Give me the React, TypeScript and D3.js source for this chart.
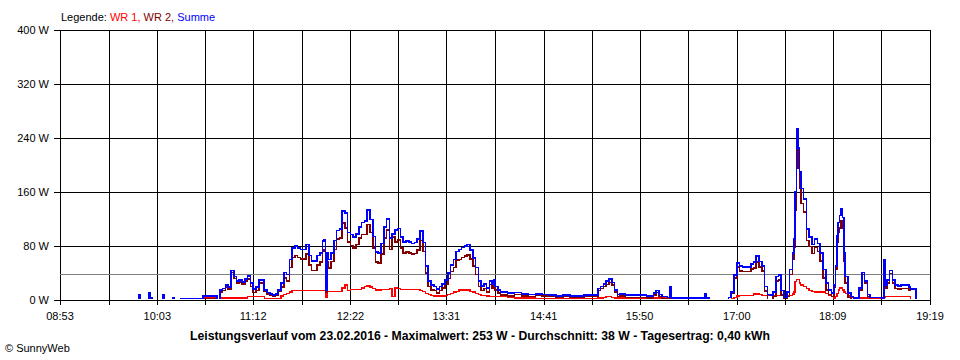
import React from 'react';
import * as d3 from 'd3';

// ---- data ----
const times = [
  '08:53','09:49','09:50','09:51','09:56','09:57','09:58','09:59','10:06','10:07','10:08','10:13','10:14','10:15','10:20','10:34',
  '10:36','10:44','10:46','10:48','10:50','10:52','10:54','10:56','10:58','11:00','11:02','11:04','11:06','11:08','11:10','11:12',
  '11:14','11:16','11:18','11:20','11:22','11:24','11:26','11:28','11:30','11:32','11:34','11:36','11:38','11:40','11:42','11:44',
  '11:46','11:48','11:50','11:52','11:54','11:56','11:58','12:00','12:02','12:03','12:04','12:05','12:06','12:08','12:10','12:12',
  '12:14','12:16','12:18','12:20','12:22','12:24','12:26','12:28','12:30','12:32','12:34','12:36','12:38','12:40','12:42','12:44',
  '12:46','12:48','12:50','12:52','12:54','12:56','12:58','13:00','13:02','13:04','13:06','13:08','13:10','13:12','13:14','13:16',
  '13:18','13:20','13:22','13:24','13:26','13:28','13:30','13:32','13:34','13:36','13:38','13:40','13:42','13:44','13:46','13:48',
  '13:50','13:52','13:54','13:56','13:58','14:00','14:02','14:04','14:05','14:06','14:08','14:10','14:15','14:20','14:25','14:30',
  '14:35','14:40','14:45','14:50','14:55','15:00','15:05','15:10','15:15','15:20','15:22','15:24','15:26','15:28','15:30','15:32',
  '15:34','15:36','15:40','15:45','15:50','15:55','16:00','16:02','16:04','16:06','16:10','16:12','16:13','16:20','16:30','16:34',
  '16:37','16:38','16:40','16:54','16:56','16:58','17:00','17:02','17:04','17:06','17:08','17:10','17:12','17:14','17:16','17:18',
  '17:20','17:22','17:24','17:26','17:28','17:30','17:32','17:34','17:36','17:38','17:40','17:41','17:42','17:43','17:44','17:45',
  '17:46','17:48','17:50','17:52','17:54','17:56','17:58','18:00','18:02','18:04','18:06','18:08','18:10','18:11','18:12','18:13',
  '18:14','18:15','18:16','18:17','18:18','18:20','18:22','18:24','18:26','18:28','18:30','18:32','18:34','18:36','18:44','18:46',
  '18:47','18:48','18:50','18:52','18:54','18:56','18:58','19:00','19:04','19:05','19:08','19:09'
];

const summe = [
  0,0,7,0,0,11,4,0,0,7,0,0,3,0,2,2,
  6,6,1,15,17,22,19,44,35,28,30,27,31,36,25,16,
  19,30,30,15,11,9,7,9,15,25,41,38,60,77,80,77,
  75,75,82,66,58,58,66,70,87,89,15,70,60,70,88,103,
  105,132,129,100,97,93,98,108,115,117,133,119,94,71,70,84,
  108,120,92,98,104,106,93,86,87,86,84,85,90,102,85,50,
  28,22,20,16,20,24,30,40,52,60,72,75,78,80,82,74,
  62,48,28,21,24,18,28,23,30,20,15,12,10,11,9,8,
  9,8,7,6,7,6,6,7,7,17,20,24,28,31,26,15,
  8,9,7,7,7,6,10,14,8,5,4,19,3,3,3,3,
  9,3,1,4,12,37,55,50,49,49,49,53,56,65,57,50,
  20,8,7,12,35,37,14,4,12,45,70,90,160,253,225,190,
  165,150,105,93,82,90,84,70,45,25,15,10,22,50,95,115,
  125,135,122,70,35,10,5,3,3,18,41,28,8,4,3,59,
  22,30,44,30,22,21,22,22,19,16,16,0
];

const wr1 = [
  0,0,2,0,0,3,1,0,0,2,0,0,0,0,0,0,
  4,4,0,3,3,3,3,3,3,3,3,3,3,5,5,5,
  5,5,5,2,2,2,2,2,2,6,8,10,12,14,14,14,
  14,14,14,14,14,14,14,14,14,14,4,13,13,13,13,13,
  13,18,22,14,16,16,16,16,18,20,21,19,17,15,15,16,
  16,16,17,5,18,17,16,16,16,16,16,16,16,14,13,10,
  8,7,6,6,6,6,7,8,10,12,13,15,15,15,15,13,
  12,10,8,7,7,6,5,5,5,5,5,5,4,3,3,3,
  2,2,2,2,2,2,2,2,2,3,3,4,5,5,4,3,
  3,3,3,3,3,3,3,3,3,3,3,3,3,3,2,0,
  0,0,0,0,2,4,6,7,7,7,7,7,9,9,8,7,
  7,7,7,7,7,7,7,4,7,7,9,12,27,30,30,25,
  22,20,17,14,13,12,12,12,12,10,7,5,3,5,10,15,
  18,18,15,12,10,6,4,3,3,3,3,3,3,3,3,4,
  5,5,5,5,5,5,5,5,5,0,0,0
];

const wr2 = [
  0,0,5,0,0,8,3,0,0,5,0,0,3,0,2,2,
  2,2,1,12,14,19,16,41,32,25,27,24,28,31,20,11,
  14,25,25,13,9,7,5,7,13,19,33,28,48,63,66,63,
  61,61,68,52,44,44,52,56,73,75,11,57,47,57,75,90,
  92,114,107,86,81,77,82,92,97,97,112,100,77,56,55,68,
  92,104,75,93,86,89,77,70,71,70,68,69,74,88,72,40,
  20,15,14,10,14,18,23,32,42,48,59,60,63,65,67,61,
  50,38,20,14,17,12,23,18,25,15,10,7,6,8,6,5,
  7,6,5,4,5,4,4,5,5,14,17,20,23,26,22,12,
  5,6,4,4,4,3,7,11,5,2,1,16,0,0,1,3,
  9,3,1,4,10,33,49,43,42,42,42,46,47,56,49,43,
  13,1,0,5,28,30,7,0,5,38,61,78,133,223,195,165,
  143,130,88,79,69,78,72,58,33,15,8,5,19,45,85,100,
  107,117,107,58,25,4,1,0,0,15,38,25,5,1,0,55,
  17,25,39,25,17,16,17,17,14,16,16,0
];

const yTicks = [0, 80, 160, 240, 320, 400];
const xTickLabels = ['08:53', '10:03', '11:12', '12:22', '13:31', '14:41', '15:50', '17:00', '18:09', '19:19'];
const average = 38;
const legendItems = [
  { label: 'WR 1, ', color: '#ff0000' },
  { label: 'WR 2, ', color: '#800000' },
  { label: 'Summe', color: '#0000ff' },
];
const title = 'Leistungsverlauf vom 23.02.2016 - Maximalwert: 253 W - Durchschnitt: 38 W - Tagesertrag: 0,40 kWh';
const copyright = '\u00a9 SunnyWeb';

// ---- layout ----
const W = 960;
const H = 360;
const left = 60;
const right = 930;
const top = 30;
const bottom = 300;
const FONT = '"Liberation Sans", Arial, sans-serif';

const toMin = (s: string) => {
  const [h, m] = s.split(':').map(Number);
  return h * 60 + m;
};

export default function App() {
  const mins = times.map(toMin);
  const x = d3.scaleLinear().domain([toMin(xTickLabels[0]), toMin(xTickLabels[xTickLabels.length - 1])]).range([left, right]);
  const y = d3.scaleLinear().domain([0, 400]).range([bottom, top]);

  const labelX = xTickLabels.map((l) => x(toMin(l)));
  const gridX: number[] = [];
  labelX.forEach((v, i) => {
    gridX.push(v);
    if (i < labelX.length - 1) gridX.push((v + labelX[i + 1]) / 2);
  });

  const mk = (vals: number[]) =>
    d3
      .line<number>()
      .x((_, i) => x(mins[i]))
      .y((d) => y(d))
      .curve(d3.curveStepAfter)(vals) || '';

  const px = (v: number) => Math.round(v) + 0.5;

  return (
    <svg
      width={W}
      height={H}
      style={{ position: 'absolute', left: 0, top: 0, background: '#fff', display: 'block' }}
      fontFamily={FONT}
    >
      <rect x={0} y={0} width={W} height={H} fill="#fff" />
      <defs>
        <clipPath id="plotclip">
          <rect x={left} y={top} width={right - left} height={bottom - top - 1} />
        </clipPath>
      </defs>

      {/* legend */}
      <text x={61} y={21} fontSize={11} fill="#000">
        <tspan>Legende: </tspan>
        {legendItems.map((it) => (
          <tspan key={it.label} fill={it.color}>
            {it.label}
          </tspan>
        ))}
      </text>

      {/* horizontal grid + y labels */}
      {yTicks.map((t) => (
        <g key={t}>
          <line x1={54} x2={right} y1={px(y(t))} y2={px(y(t))} stroke="#000" strokeWidth={1} shapeRendering="crispEdges" />
          <text x={49} y={y(t) + 4} fontSize={11} textAnchor="end" fill="#000">
            {`${t} W`}
          </text>
        </g>
      ))}

      {/* vertical grid */}
      {gridX.map((gx, i) => (
        <line key={i} x1={px(gx)} x2={px(gx)} y1={top} y2={bottom + 5} stroke="#000" strokeWidth={1} shapeRendering="crispEdges" />
      ))}

      {/* average line */}
      <line x1={left} x2={right} y1={px(y(average))} y2={px(y(average))} stroke="#808080" strokeWidth={1} shapeRendering="crispEdges" />

      {/* series */}
      <g clipPath="url(#plotclip)" fill="none" shapeRendering="crispEdges">
        <path d={mk(wr1)} stroke="#ff0000" strokeWidth={1.4} />
        <path d={mk(wr2)} stroke="#800000" strokeWidth={1.6} />
        <path d={mk(summe)} stroke="#0000ff" strokeWidth={1.6} />
      </g>

      {/* bottom axis */}
      <line x1={54} x2={right} y1={px(bottom)} y2={px(bottom)} stroke="#000" strokeWidth={1} shapeRendering="crispEdges" />

      {/* x labels */}
      {xTickLabels.map((l, i) => (
        <text key={l} x={labelX[i]} y={320} fontSize={11} textAnchor="middle" fill="#000">
          {l}
        </text>
      ))}

      {/* title */}
      <text x={480} y={340} fontSize={12} fontWeight="bold" textAnchor="middle" fill="#000" textLength={580} lengthAdjust="spacingAndGlyphs">
        {title}
      </text>

      <text x={5} y={352} fontSize={11} fill="#000">
        {copyright}
      </text>
    </svg>
  );
}
